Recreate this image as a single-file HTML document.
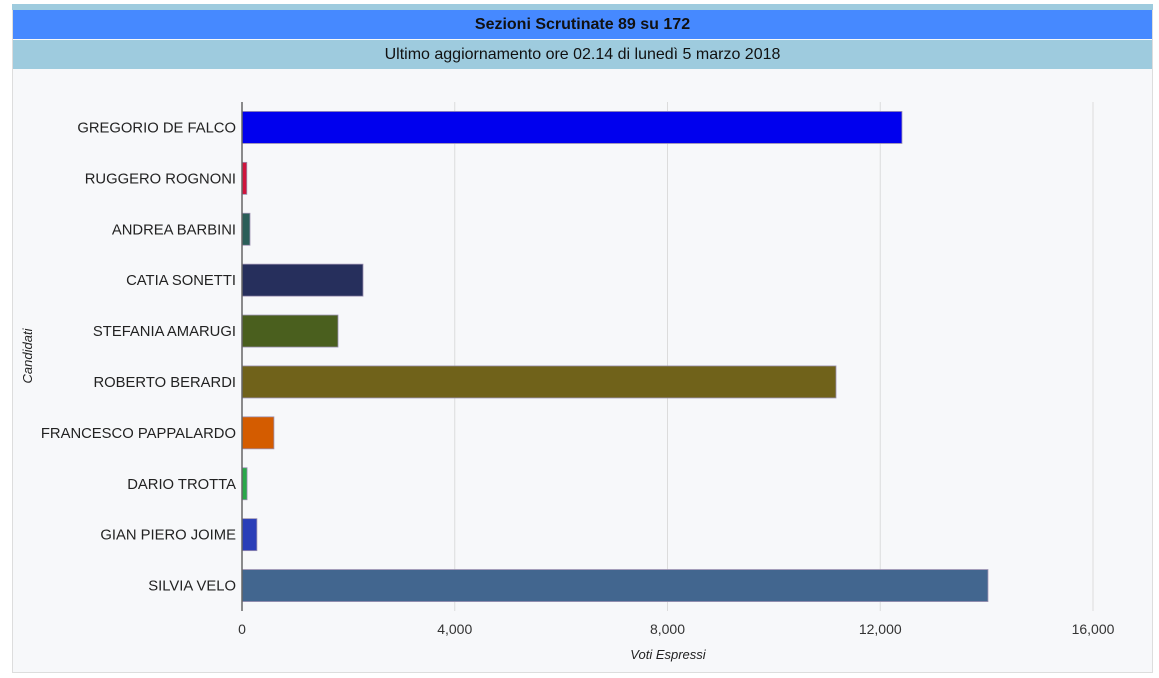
<!DOCTYPE html>
<html><head><meta charset="utf-8"><style>
body{margin:0;width:1159px;height:678px;background:#fff;font-family:"Liberation Sans",sans-serif;overflow:hidden;position:relative}
.box{position:absolute;left:12px;top:4px;width:1141px;height:669px;border:1px solid #ddd;border-top:none;background:#f7f8fa;box-sizing:border-box}
.strip{position:absolute;left:12px;top:4px;width:1141px;height:6px;background:#9ecbde}
.h1{position:absolute;left:13px;top:10px;width:1139px;height:29px;background:#4689ff;color:#111;font-weight:bold;font-size:16px;text-align:center;line-height:29px}
.h2{position:absolute;left:13px;top:40px;width:1139px;height:29px;background:#9ecbde;color:#111;font-size:16px;text-align:center;line-height:29px}
</style></head><body>
<div class="box"></div>
<div class="strip"></div>
<div class="h1">Sezioni Scrutinate 89 su 172</div>
<div class="h2">Ultimo aggiornamento ore 02.14 di lunedì 5 marzo 2018</div>
<svg id="c" width="1159" height="678" style="position:absolute;left:0;top:0"></svg>
<script>
const categories=["GREGORIO DE FALCO","RUGGERO ROGNONI","ANDREA BARBINI","CATIA SONETTI","STEFANIA AMARUGI","ROBERTO BERARDI","FRANCESCO PAPPALARDO","DARIO TROTTA","GIAN PIERO JOIME","SILVIA VELO"];
const votes=[12408,90,150,2275,1805,11168,600,95,280,14025];
const colors=["#0000ee","#d0143c","#2a5e58","#262f5c","#4a5f1e","#70621a","#d45c00","#2aa84a","#2a3eb8","#42668f"];
const ticks=[0,4000,8000,12000,16000];
const tickLabels=["0","4,000","8,000","12,000","16,000"];
const svg=document.getElementById('c');const NS="http://www.w3.org/2000/svg";
const x0=242,x1=1093,yTop=102,yBot=611,vmax=16000;
const xs=v=>x0+(x1-x0)*v/vmax;
const band=(yBot-yTop)/categories.length;
const yc=i=>yTop+band*(i+0.5);
function mk(t,a,txt){const e=document.createElementNS(NS,t);for(const k in a)e.setAttribute(k,a[k]);if(txt!==undefined)e.textContent=txt;svg.appendChild(e);return e;}
ticks.forEach((t,i)=>{
 if(t>0){const g=mk('line',{x1:xs(t),x2:xs(t),y1:yTop,y2:yBot,stroke:'#dcdcdc','stroke-width':1});
 
 }
 const l=mk('text',{x:xs(t),y:634,'text-anchor':'middle','font-size':14,fill:'#333'},tickLabels[i]);
 
 
});
categories.forEach((c,i)=>{
 const r=mk('rect',{x:x0,y:yc(i)-16,width:xs(votes[i])-x0,height:32,fill:colors[i],stroke:'#9a8fb0','stroke-width':0.8});
 
 
 const t=mk('text',{x:236,y:yc(i)+5,'text-anchor':'end','font-size':14.8,fill:'#222'},c);
 
 
});
const ax=mk('line',{x1:x0,x2:x0,y1:yTop,y2:yBot,stroke:'#666','stroke-width':1.5});


const xt=mk('text',{x:668,y:659,'text-anchor':'middle','font-size':13,'font-style':'italic',fill:'#222'},'Voti Espressi');


const yt=mk('text',{x:0,y:0,'text-anchor':'middle','font-size':13,'font-style':'italic',fill:'#222',transform:'translate(32,356) rotate(-90)'},'Candidati');


</script>
</body></html>
